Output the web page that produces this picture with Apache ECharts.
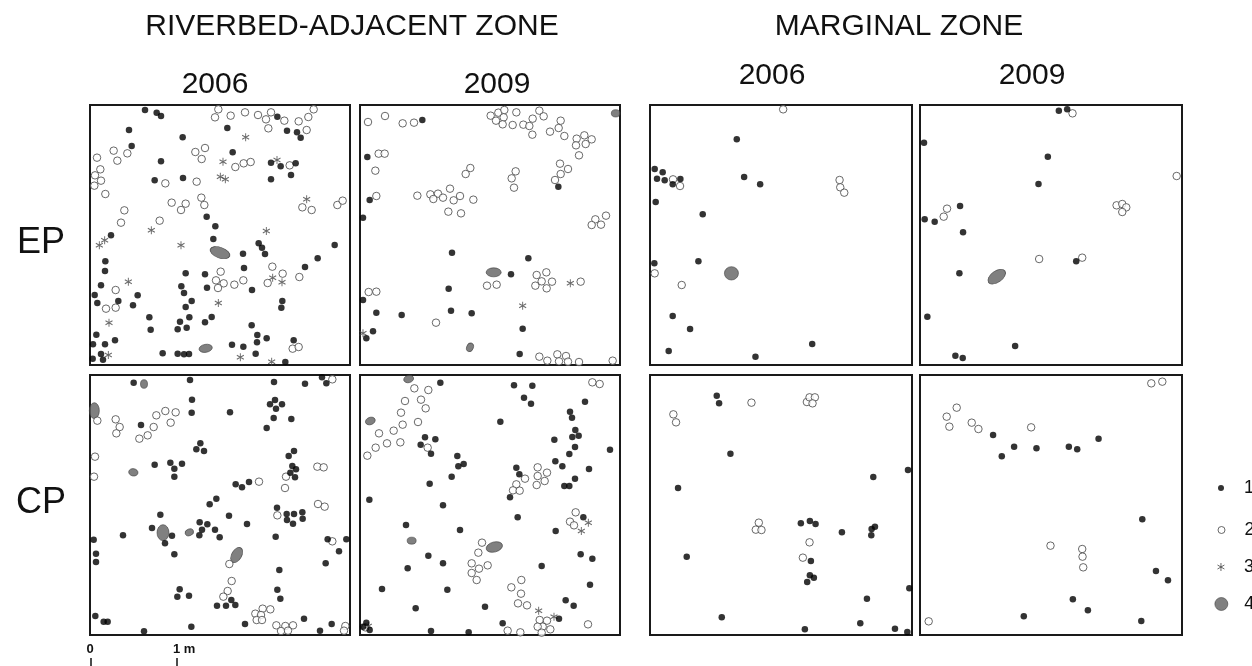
<!DOCTYPE html>
<html><head><meta charset="utf-8">
<script src="https://cdn.jsdelivr.net/npm/echarts@6/dist/echarts.min.js"></script>
<style>html,body{margin:0;padding:0;background:#fff}#c{width:1252px;height:666px}</style>
</head><body><div id="c"></div>
<script>
// Text
const zoneTitles = ['RIVERBED-ADJACENT ZONE', 'MARGINAL ZONE'];
const years = ['2006', '2009'];
const rowLabels = ['EP', 'CP'];
const typeNames = ['1', '2', '3', '4'];
const scaleLabels = ['0', '1 m'];

// Positions in plot units (each square plot spans ~15..795, x to the right, y downward)
// Type 4 items: [x, y, length, width, angle]
// EP, riverbed-adjacent zone, 2006
const epRb06_1 = [[180,30],[215,38],[228,48],[132,90],[293,112],[427,84],[577,50],[606,92],[636,97],[647,113],[140,138],[228,184],[443,157],[558,188],[587,199],[632,190],[209,241],[294,234],[558,238],[618,225],[365,350],[391,379],[385,417],[78,406],[521,430],[531,443],[540,462],[749,435],[474,461],[698,475],[660,501],[61,484],[60,513],[302,520],[477,504],[360,523],[48,556],[289,559],[366,563],[297,579],[158,586],[501,570],[29,585],[100,603],[37,609],[144,616],[320,603],[302,621],[592,603],[589,623],[193,652],[313,652],[285,665],[380,651],[360,667],[197,689],[278,688],[305,683],[500,676],[34,704],[517,705],[90,721],[516,727],[545,715],[626,721],[441,734],[475,740],[24,733],[60,733],[233,760],[278,761],[297,763],[312,762],[512,761],[23,776],[48,762],[54,779],[601,786]];
const epRb06_2 = [[400,28],[390,52],[437,47],[480,37],[519,45],[543,58],[558,37],[550,85],[598,62],[641,64],[670,51],[686,28],[665,90],[86,152],[97,182],[127,160],[36,173],[46,208],[30,226],[48,242],[28,257],[61,282],[331,156],[360,144],[350,177],[451,201],[476,190],[497,186],[614,196],[335,245],[241,250],[118,331],[108,368],[224,362],[260,308],[288,330],[302,311],[349,293],[358,315],[652,322],[680,330],[757,315],[773,302],[562,500],[593,521],[643,531],[548,549],[407,515],[393,541],[416,550],[399,564],[448,554],[475,541],[92,570],[63,626],[92,623],[623,746],[641,741]];
const epRb06_3 = [[482,112],[414,185],[576,180],[406,230],[421,238],[665,298],[199,391],[544,393],[288,436],[43,436],[59,421],[130,545],[563,533],[591,547],[400,609],[72,668],[70,765],[466,772],[560,785]];
const epRb06_4 = [[405,458,62,32,-20],[362,745,40,24,10]];
// EP, riverbed-adjacent zone, 2009
const epRb09_1 = [[202,60],[37,171],[44,300],[24,353],[610,260],[291,458],[520,475],[468,523],[281,566],[24,600],[64,638],[140,645],[288,632],[350,640],[54,694],[34,715],[503,686],[494,762]];
const epRb09_2 = [[39,66],[90,48],[143,70],[177,68],[407,47],[430,38],[448,30],[446,52],[423,62],[443,73],[473,75],[484,37],[505,74],[523,78],[533,56],[553,32],[566,49],[532,104],[585,95],[617,62],[611,84],[628,108],[665,116],[688,106],[710,118],[692,132],[663,136],[672,166],[71,161],[89,161],[61,212],[346,204],[332,222],[482,214],[470,235],[477,263],[615,191],[639,207],[617,222],[600,240],[64,288],[187,287],[226,283],[249,281],[235,297],[264,293],[285,266],[296,301],[315,288],[355,299],[280,335],[318,340],[721,358],[753,347],[710,375],[738,374],[545,525],[574,517],[560,544],[591,545],[541,557],[575,565],[677,545],[396,557],[425,554],[41,576],[64,575],[243,668],[553,770],[577,782],[607,763],[633,768],[612,784],[639,785],[672,786],[773,782]];
const epRb09_3 = [[646,550],[503,617],[24,700]];
const epRb09_4 = [[416,517,45,27,0],[345,742,20,27,-20],[782,40,26,22,0]];
// EP, marginal zone, 2006
const epMz06_1 = [[275,118],[29,207],[53,217],[36,236],[59,241],[83,253],[106,237],[297,231],[345,253],[32,306],[173,343],[28,490],[160,484],[83,648],[135,687],[71,753],[331,770],[501,732]];
const epMz06_2 = [[414,28],[84,238],[105,258],[583,240],[585,262],[597,278],[29,520],[110,555]];
const epMz06_3 = [];
const epMz06_4 = [[259,520,42,40,0]];
// EP, marginal zone, 2009
const epMz09_1 = [[431,32],[456,28],[27,128],[398,170],[370,252],[135,318],[29,358],[59,365],[144,397],[133,520],[483,484],[37,650],[300,738],[121,767],[143,774]];
const epMz09_2 = [[472,40],[784,228],[96,326],[86,350],[604,316],[621,312],[633,322],[621,336],[372,477],[501,473]];
const epMz09_3 = [];
const epMz09_4 = [[245,530,60,34,35]];
// CP, riverbed-adjacent zone, 2006
const cpRb06_1 = [[146,38],[315,30],[321,89],[320,128],[168,165],[435,127],[567,36],[660,41],[711,22],[724,40],[555,103],[570,90],[591,103],[573,116],[566,144],[619,147],[545,174],[346,220],[334,238],[357,243],[209,284],[256,278],[268,296],[291,281],[268,320],[627,243],[611,258],[622,288],[633,298],[616,308],[630,322],[452,343],[471,352],[492,336],[394,386],[374,403],[432,437],[226,434],[201,474],[114,496],[240,520],[261,497],[344,457],[367,463],[351,479],[343,496],[390,479],[404,502],[486,462],[576,413],[605,432],[627,432],[652,427],[606,450],[624,461],[653,446],[572,500],[26,509],[728,508],[784,508],[762,544],[33,551],[33,576],[268,553],[583,600],[722,580],[577,659],[586,686],[284,658],[277,680],[312,677],[439,690],[396,707],[423,707],[451,705],[31,738],[56,755],[68,755],[177,784],[319,770],[480,762],[657,746],[705,782],[740,762]];
const cpRb06_2 = [[37,152],[92,148],[104,171],[94,190],[163,206],[188,196],[206,171],[214,136],[241,123],[272,127],[257,158],[30,260],[27,320],[522,335],[603,320],[600,354],[697,290],[716,292],[577,436],[699,402],[719,410],[742,514],[433,582],[440,633],[428,663],[415,680],[511,731],[533,716],[556,718],[528,735],[515,750],[531,750],[574,766],[601,768],[624,766],[588,783],[609,782],[781,768],[777,782],[742,28]];
const cpRb06_3 = [];
const cpRb06_4 = [[28,122,48,30,90],[177,42,26,21,90],[145,307,28,22,-10],[234,488,48,36,90],[313,487,26,20,20],[455,555,50,30,60]];
// CP, riverbed-adjacent zone, 2009
const cpRb09_1 = [[256,38],[477,46],[532,47],[507,83],[528,101],[690,95],[645,125],[651,143],[436,155],[661,180],[652,201],[671,197],[598,209],[660,231],[643,252],[765,239],[210,202],[241,208],[197,224],[228,251],[307,258],[310,289],[326,282],[290,320],[224,341],[601,274],[622,289],[702,297],[484,293],[493,313],[660,326],[628,348],[643,348],[465,382],[43,389],[264,406],[488,442],[685,442],[153,465],[315,480],[602,483],[220,557],[264,580],[158,595],[560,588],[677,553],[712,566],[81,657],[277,659],[705,644],[182,715],[390,710],[632,691],[656,707],[443,760],[612,746],[34,758],[24,770],[44,780],[228,783],[341,787]];
const cpRb09_2 = [[178,55],[220,60],[150,93],[198,89],[212,115],[138,128],[189,156],[143,164],[116,182],[72,190],[96,220],[136,217],[62,233],[37,257],[218,233],[548,292],[576,308],[548,318],[569,333],[545,345],[510,326],[484,343],[474,361],[494,362],[712,37],[734,42],[662,427],[645,455],[657,466],[381,518],[370,548],[350,580],[372,596],[398,586],[350,609],[365,630],[469,652],[499,630],[498,671],[489,700],[516,706],[554,750],[576,752],[563,770],[586,778],[548,770],[560,788],[458,782],[496,787],[699,763],[31,772]];
const cpRb09_3 = [[551,722],[597,740],[700,458],[679,483],[40,768]];
const cpRb09_4 = [[161,27,30,22,15],[46,153,30,22,20],[170,512,27,21,0],[418,531,50,30,15]];
// CP, marginal zone, 2006
const cpMz06_1 = [[215,77],[222,100],[256,251],[99,354],[684,321],[788,300],[467,460],[494,453],[511,462],[590,487],[679,477],[689,470],[678,496],[125,560],[497,573],[494,616],[506,623],[486,636],[792,655],[665,686],[230,742],[479,778],[645,760],[749,776],[786,786]];
const cpMz06_2 = [[85,133],[93,157],[319,98],[485,96],[493,82],[509,82],[502,100],[341,458],[332,479],[349,480],[493,517],[473,563]];
const cpMz06_3 = [];
const cpMz06_4 = [];
// CP, marginal zone, 2009
const cpMz09_1 = [[234,195],[297,230],[260,259],[364,235],[461,230],[486,238],[550,206],[681,448],[722,603],[758,631],[473,688],[518,721],[326,739],[678,753]];
const cpMz09_2 = [[708,40],[741,35],[125,113],[95,140],[103,170],[170,158],[190,177],[348,172],[406,527],[501,537],[502,560],[504,592],[41,754]];
const cpMz09_3 = [];
const cpMz09_4 = [];

const panelData = [
  [epRb06_1, epRb06_2, epRb06_3, epRb06_4],
  [epRb09_1, epRb09_2, epRb09_3, epRb09_4],
  [epMz06_1, epMz06_2, epMz06_3, epMz06_4],
  [epMz09_1, epMz09_2, epMz09_3, epMz09_4],
  [cpRb06_1, cpRb06_2, cpRb06_3, cpRb06_4],
  [cpRb09_1, cpRb09_2, cpRb09_3, cpRb09_4],
  [cpMz06_1, cpMz06_2, cpMz06_3, cpMz06_4],
  [cpMz09_1, cpMz09_2, cpMz09_3, cpMz09_4]
];

// Layout
const colLeft = [90, 360, 650, 920];
const colWidth = [260, 260, 262, 262];
const colXMax = [795, 795, 800, 800];
const rowTop = [105, 375];
const panelH = 260;
const U_MIN = 15, Y_MAX = 795;

const chart = echarts.init(document.getElementById('c'), null, {renderer: 'canvas'});
const grids = [], xAxes = [], yAxes = [], series = [];
const star = 'path://M5,0L5,10M0.67,2.5L9.33,7.5M0.67,7.5L9.33,2.5';
const FONT = '"Liberation Sans", Arial, sans-serif';

panelData.forEach((pd, i) => {
  const r = Math.floor(i / 4), c = i % 4;
  grids.push({left: colLeft[c], top: rowTop[r], width: colWidth[c], height: panelH,
    show: true, borderColor: '#1a1a1a', borderWidth: 2, backgroundColor: 'transparent'});
  xAxes.push({gridIndex: i, type: 'value', min: U_MIN, max: colXMax[c], show: false});
  yAxes.push({gridIndex: i, type: 'value', min: U_MIN, max: Y_MAX, inverse: true, show: false});
  const k = colWidth[c] / (colXMax[c] - U_MIN);
  const common = {type: 'scatter', xAxisIndex: i, yAxisIndex: i, clip: false, silent: true, emphasis: {disabled: true}};
  series.push(Object.assign({}, common, {name: typeNames[3], symbol: 'circle',
    itemStyle: {color: '#606060', borderColor: '#3a3a3a', borderWidth: 0.7},
    data: pd[3].map(b => ({value: [b[0], b[1]], symbolSize: [b[2] * k, b[3] * k], symbolRotate: b[4]}))}));
  series.push(Object.assign({}, common, {name: typeNames[1], symbol: 'circle', symbolSize: 7.5,
    itemStyle: {color: '#ffffff', borderColor: '#444444', borderWidth: 1}, data: pd[1]}));
  series.push(Object.assign({}, common, {name: typeNames[2], symbol: star, symbolSize: [7, 8],
    itemStyle: {color: 'rgba(0,0,0,0)', borderColor: '#444444', borderWidth: 1}, data: pd[2]}));
  series.push(Object.assign({}, common, {name: typeNames[0], symbol: 'circle', symbolSize: 6.5,
    itemStyle: {color: '#000000'}, data: pd[0]}));
});

const legendY = [489, 531, 568, 605];
const legendSize = [6, 7, 8, 13];
const legendBorder = [0, 1, 1, 0.7];
const legends = typeNames.map((n, i) => ({
  data: [n], orient: 'vertical', selectedMode: false, padding: 0,
  left: 1221 - legendSize[i] / 2, top: legendY[i] - 10,
  itemWidth: legendSize[i], itemHeight: legendSize[i],
  itemStyle: {borderWidth: legendBorder[i]},
  textStyle: {fontSize: 18, color: '#111', fontFamily: FONT, padding: [0, 0, 0, 1244 - (1221 + legendSize[i] / 2) - 5]}
}));

const txt = (t, x, y, size, weight, align) => ({type: 'text', silent: true,
  style: {text: t, x: x, y: y, fill: '#111', font: (weight || 'normal') + ' ' + size + 'px ' + FONT,
    align: align || 'center', verticalAlign: 'middle'}});

const graphics = [
  txt(zoneTitles[0], 352, 27, 30), txt(zoneTitles[1], 899, 27, 30),
  txt(years[0], 215, 85, 30), txt(years[1], 497, 85, 30),
  txt(years[0], 772, 76, 30), txt(years[1], 1032, 76, 30),
  txt(rowLabels[0], 41, 243, 36), txt(rowLabels[1], 41, 503, 36),
  txt(scaleLabels[0], 90, 649, 13, 'bold'),
  txt(scaleLabels[1], 173, 649, 13, 'bold', 'left'),
  {type: 'line', silent: true, shape: {x1: 91, y1: 658, x2: 91, y2: 666}, style: {stroke: '#111', lineWidth: 1.5}},
  {type: 'line', silent: true, shape: {x1: 177, y1: 658, x2: 177, y2: 666}, style: {stroke: '#111', lineWidth: 1.5}}
];

chart.setOption({
  animation: false,
  backgroundColor: '#ffffff',
  grid: grids, xAxis: xAxes, yAxis: yAxes,
  legend: legends,
  series: series,
  graphic: graphics
});
</script></body></html>
